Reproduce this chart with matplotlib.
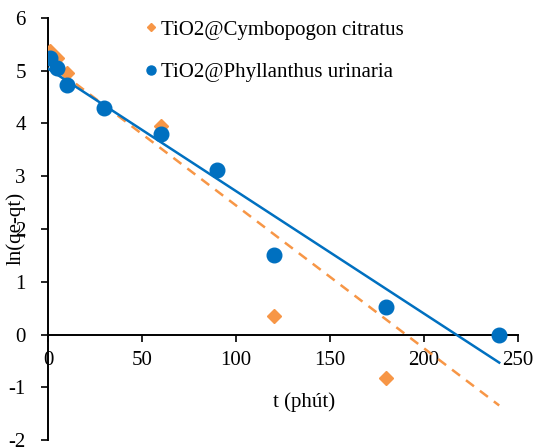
import numpy as np
import matplotlib
matplotlib.use('Agg')
import matplotlib.pyplot as plt
from matplotlib.lines import Line2D

plt.rcParams['font.family'] = ['Liberation Serif', 'DejaVu Serif']
plt.rcParams['font.size'] = 15
plt.rcParams['axes.unicode_minus'] = False

# sampling times (minutes)
t = [1, 5, 10, 30, 60, 90, 120, 180, 240]
# ln(qe-qt) for each material
cymbopogon = [5.38, 5.24, 4.95, 4.30, 3.95, 3.10, 0.36, -0.82, 0.0]
phyllanthus = [5.25, 5.05, 4.73, 4.29, 3.81, 3.11, 1.51, 0.52, 0.0]

labels = ['TiO2@Cymbopogon citratus', 'TiO2@Phyllanthus urinaria']
orange = '#F79646'
blue = '#0070C0'

fig = plt.figure(figsize=(5.36, 4.48), dpi=100)
ax = fig.add_axes([48/536, 8/448, 470/536, 422/448])

t_arr = np.array(t)
t_fit = np.array([0, max(t)])

# linear trend lines (least squares, like Excel trendline)
k1, b1 = np.polyfit(t_arr, cymbopogon, 1)
k2, b2 = np.polyfit(t_arr, phyllanthus, 1)

ax.plot(t, cymbopogon, 'D', color=orange, markersize=7.5, zorder=3)
ax.plot(t_fit, k1*t_fit + b1, color=orange, lw=1.8, linestyle=(0, (4, 3)), zorder=2)
ax.plot(t, phyllanthus, 'o', color=blue, markersize=10.5, zorder=4)
ax.plot(t_fit, k2*t_fit + b2, color=blue, lw=1.8, zorder=5)

ax.set_xlim(0, 250)
ax.set_ylim(-2, 6)
ax.set_xticks(np.arange(0, 251, 50))
ax.set_yticks(np.arange(-2, 7, 1))

ax.spines['top'].set_visible(False)
ax.spines['right'].set_visible(False)
ax.spines['bottom'].set_position(('data', 0))
ax.spines['left'].set_linewidth(1.4)
ax.spines['bottom'].set_linewidth(1.4)
ax.tick_params(axis='y', direction='out', length=5, width=1.2, pad=11)
ax.tick_params(axis='x', direction='out', length=5, width=1.2, pad=7)

fig.text(304/536, 1 - 402/448, 't (phút)', ha='center', va='center')
fig.text(16/536, 1 - 228/448, 'ln(qe-qt)', ha='center', va='center', rotation=90)

handles = [
    Line2D([], [], marker='D', color=orange, linestyle='none', markersize=4.5),
    Line2D([], [], marker='o', color=blue, linestyle='none', markersize=6.5),
]
fig.legend(handles, labels, loc='upper left', bbox_to_anchor=(146/536, 1 - 20/448),
           frameon=False, handlelength=0.5, handletextpad=0.2, labelspacing=1.1,
           borderaxespad=0, borderpad=0)

fig.savefig('out.png', dpi=100)
